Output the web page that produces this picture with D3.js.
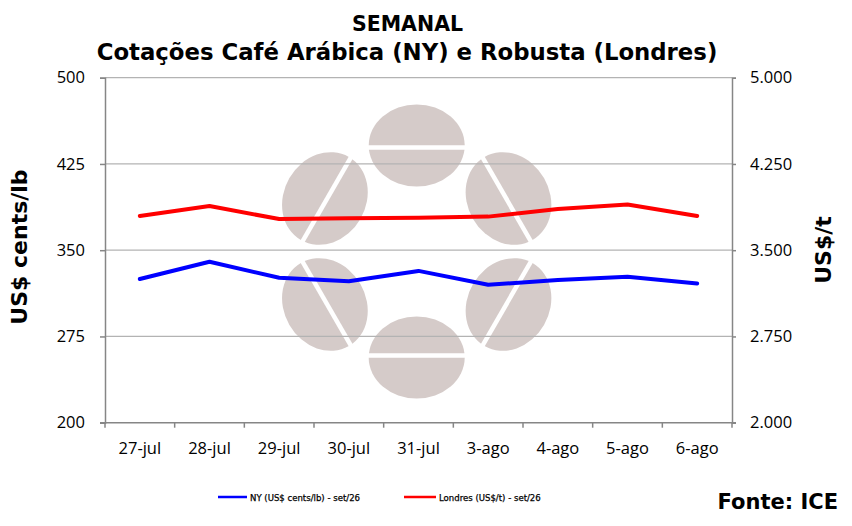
<!DOCTYPE html>
<html><head><meta charset="utf-8">
<script src="https://cdn.jsdelivr.net/npm/d3@7/dist/d3.min.js"></script>
<style>
html,body{margin:0;padding:0;background:#fff;}
svg{display:block;}
</style></head>
<body>
<svg id="chart" width="852" height="526"></svg>
<script>
const categories = ["27-jul","28-jul","29-jul","30-jul","31-jul","3-ago","4-ago","5-ago","6-ago"];
const nyValues = [325, 340, 326, 323, 332, 320, 324, 327, 321];
const londresValues = [3797, 3884, 3771, 3777, 3783, 3792, 3858, 3897, 3797];
const leftTicks = [200, 275, 350, 425, 500];
const rightTicks = [2000, 2750, 3500, 4250, 5000];
const seriesNames = ["NY (US$ cents/lb) - set/26", "Londres (US$/t) - set/26"];

const svg = d3.select("#chart");
const m = {left:105, top:77.7};
const pw = 732 - m.left, ph = 422.7 - m.top;
const boldFont = "'DejaVu Sans', sans-serif";

const x = d3.scaleBand().domain(categories).range([m.left, m.left + pw]);
const yL = d3.scaleLinear().domain([200, 500]).range([m.top + ph, m.top]);
const yR = d3.scaleLinear().domain([2000, 5000]).range([m.top + ph, m.top]);

// Watermark (decorative coffee-bean logo)
const wm = svg.append("g");
const cx = 416.7, cy = 251.5, R = 106;
const beanColor = "#d5cbc9";
[90, 150, 210, 270, 330, 30].forEach(a => {
  const rad = a * Math.PI / 180;
  const bx = cx + R * Math.cos(rad), by = cy - R * Math.sin(rad);
  const g = wm.append("g").attr("transform", `translate(${bx},${by}) rotate(${-(a - 90)})`);
  g.append("ellipse").attr("rx", 48).attr("ry", 41).attr("fill", beanColor);
  g.append("line").attr("x1", -52).attr("x2", 52).attr("y1", 2).attr("y2", 2)
    .attr("stroke", "#fff").attr("stroke-width", 4.5);
});

// Gridlines
svg.append("g").selectAll("line").data(leftTicks.slice(1)).join("line")
  .attr("x1", m.left).attr("x2", m.left + pw)
  .attr("y1", d => yL(d)).attr("y2", d => yL(d))
  .attr("stroke", "#b3b3b3").attr("stroke-width", 1.3);

// Axes
const axL = svg.append("g").attr("transform", `translate(${m.left},0)`)
  .call(d3.axisLeft(yL).tickValues(leftTicks).tickSize(5).tickPadding(15).tickFormat(d3.format("d")));
const axR = svg.append("g").attr("transform", `translate(${m.left + pw},0)`)
  .call(d3.axisRight(yR).tickValues(rightTicks).tickSize(4).tickPadding(14)
    .tickFormat(d => (d/1000).toFixed(3)));
const axB = svg.append("g").attr("transform", `translate(0,${m.top + ph})`)
  .call(d3.axisBottom(x).tickSize(0).tickPadding(20));
svg.append("g").selectAll("line").data(d3.range(categories.length + 1)).join("line")
  .attr("x1", i => m.left + i * x.step()).attr("x2", i => m.left + i * x.step())
  .attr("y1", m.top + ph).attr("y2", m.top + ph + 5)
  .attr("stroke", "#868686").attr("stroke-width", 1.5);
svg.append("line").attr("x1", m.left - 5).attr("x2", m.left + pw + 4)
  .attr("y1", m.top + ph).attr("y2", m.top + ph).attr("stroke", "#868686").attr("stroke-width", 1.5);

[axL, axR, axB].forEach(a => {
  a.select(".domain").attr("stroke", "#868686").attr("stroke-width", 1.5);
  a.selectAll(".tick line").attr("stroke", "#868686").attr("stroke-width", 1.5);
  a.selectAll("text").attr("font-family", "'Open Sans', sans-serif").attr("font-size", 16.5).attr("fill", "#000");
});
axB.select(".domain").remove();

// Lines
const lineL = d3.line().x((d, i) => x(categories[i]) + x.bandwidth() / 2).y(d => yL(d));
const lineR = d3.line().x((d, i) => x(categories[i]) + x.bandwidth() / 2).y(d => yR(d));
svg.append("path").datum(londresValues).attr("d", lineR)
  .attr("fill", "none").attr("stroke", "#ff0000").attr("stroke-width", 4).attr("stroke-linejoin", "round").attr("stroke-linecap", "round");
svg.append("path").datum(nyValues).attr("d", lineL)
  .attr("fill", "none").attr("stroke", "#0000ff").attr("stroke-width", 4).attr("stroke-linejoin", "round").attr("stroke-linecap", "round");

// Titles
svg.append("text").attr("x", 407.5).attr("y", 31).attr("text-anchor", "middle")
  .attr("font-family", boldFont).attr("font-weight", "bold").attr("font-size", 20.5)
  .text("SEMANAL");
svg.append("text").attr("x", 407).attr("y", 60).attr("text-anchor", "middle")
  .attr("font-family", boldFont).attr("font-weight", "bold").attr("font-size", 22.8)
  .text("Cotações Café Arábica (NY) e Robusta (Londres)");

// Axis titles
svg.append("text").attr("transform", "translate(27,247) rotate(-90)").attr("text-anchor", "middle")
  .attr("font-family", boldFont).attr("font-weight", "bold").attr("font-size", 22)
  .text("US$ cents/lb");
svg.append("text").attr("transform", "translate(831,250) rotate(-90)").attr("text-anchor", "middle")
  .attr("font-family", boldFont).attr("font-weight", "bold").attr("font-size", 22)
  .text("US$/t");

// Legend
const legend = [{name: seriesNames[0], color: "#0000ff", x0: 218, x1: 247},
                {name: seriesNames[1], color: "#ff0000", x0: 404, x1: 436}];
const lg = svg.append("g").selectAll("g").data(legend).join("g");
lg.append("line").attr("x1", d => d.x0).attr("x2", d => d.x1).attr("y1", 497).attr("y2", 497)
  .attr("stroke", d => d.color).attr("stroke-width", 2.5);
lg.append("text").attr("x", d => d.x1 + 3).attr("y", 500.5)
  .attr("font-family", "'DejaVu Sans Condensed', 'DejaVu Sans', sans-serif").attr("font-size", 9.5)
  .attr("stroke", "#000").attr("stroke-width", 0.25)
  .text(d => d.name);

svg.append("text").attr("x", 838).attr("y", 509).attr("text-anchor", "end")
  .attr("font-family", boldFont).attr("font-weight", "bold").attr("font-size", 21)
  .text("Fonte: ICE");
</script>
</body></html>
